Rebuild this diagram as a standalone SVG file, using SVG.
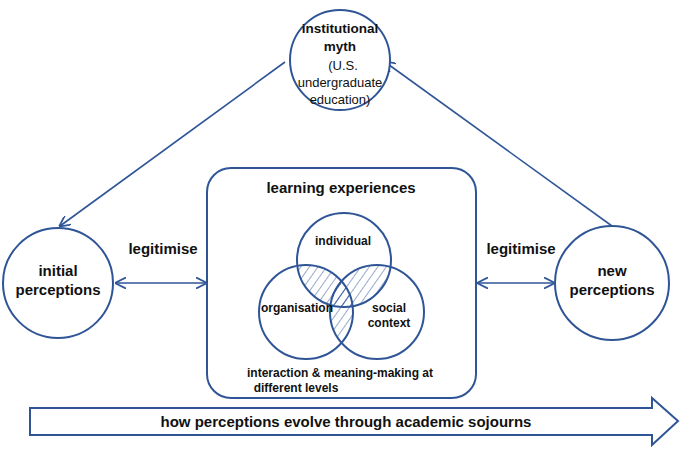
<svg xmlns="http://www.w3.org/2000/svg" width="680" height="451" viewBox="0 0 680 451">
<style>
.n{fill:#fff;stroke:#2f5597;stroke-width:2}
.v{fill:none;stroke:#2f5597;stroke-width:2}
.c{stroke:#2f5597;stroke-width:1.6;fill:none}
text{font-family:"Liberation Sans",Arial,sans-serif;font-weight:bold;fill:#111;text-anchor:middle}
text.r{font-weight:normal}
</style>
<defs>
<marker id="a" viewBox="0 0 10 10" refX="9" refY="5" markerWidth="7" markerHeight="7" orient="auto-start-reverse"><path d="M0,0 L10,5 L0,10" fill="none" stroke="#2f5597" stroke-width="1.6"/></marker>
<pattern id="h" width="7" height="7" patternUnits="userSpaceOnUse" patternTransform="rotate(35)"><line x1="0" y1="0" x2="0" y2="7" stroke="#2f5597" stroke-width="1"/></pattern>
<clipPath id="ci"><circle cx="344" cy="260" r="47"/></clipPath>
<clipPath id="co"><circle cx="306" cy="312" r="47"/></clipPath>
<clipPath id="cs"><circle cx="377" cy="312" r="47"/></clipPath>
</defs>
<g id="connectors">
<line class="c" x1="285" y1="62" x2="60" y2="226" marker-end="url(#a)"/>
<line class="c" x1="612" y1="226" x2="385" y2="62" marker-end="url(#a)"/>
<line class="c" x1="116" y1="283" x2="206" y2="283" marker-start="url(#a)" marker-end="url(#a)"/>
<line class="c" x1="478" y1="283" x2="554" y2="283" marker-start="url(#a)" marker-end="url(#a)"/>
<text x="163" y="254" font-size="15">legitimise</text>
<text x="521" y="254" font-size="15">legitimise</text>
</g>
<g id="myth"><circle class="n" cx="340" cy="60" r="50"/>
<text x="340" y="33" font-size="13.5">institutional</text>
<text x="340" y="51" font-size="13.5">myth</text>
<text class="r" x="343" y="70" font-size="13">(U.S.</text>
<text class="r" x="340" y="87" font-size="13">undergraduate</text>
<text class="r" x="340" y="104" font-size="13">education)</text></g>
<g id="initial"><circle class="n" cx="58" cy="283" r="55"/>
<text x="58" y="276" font-size="15">initial</text><text x="58" y="295" font-size="15">perceptions</text></g>
<g id="new"><circle class="n" cx="612" cy="283" r="57"/>
<text x="612" y="276" font-size="15">new</text><text x="612" y="295" font-size="15">perceptions</text></g>
<g id="learning"><rect class="n" x="207" y="168" width="269" height="230" rx="24"/>
<text x="341" y="193" font-size="15">learning  experiences</text>
<g clip-path="url(#ci)"><rect x="250" y="200" width="200" height="170" fill="url(#h)" clip-path="url(#co)"/></g>
<g clip-path="url(#ci)"><rect x="250" y="200" width="200" height="170" fill="url(#h)" clip-path="url(#cs)"/></g>
<g clip-path="url(#co)"><rect x="250" y="200" width="200" height="170" fill="url(#h)" clip-path="url(#cs)"/></g>
<circle class="v" cx="344" cy="260" r="47"/>
<circle class="v" cx="306" cy="312" r="47"/>
<circle class="v" cx="377" cy="312" r="47"/>
<text x="343" y="245" font-size="12">individual</text>
<text x="297" y="312" font-size="12">organisation</text>
<text x="389" y="312" font-size="12">social</text>
<text x="389" y="327" font-size="12">context</text>
<text x="340" y="377" font-size="12">interaction &amp; meaning-making at</text>
<text x="296" y="392" font-size="12">different levels</text></g>
<g id="timeline"><path class="n" d="M30,408 H652 V398 L678,421 L652,445 V435 H30 Z"/>
<text x="346" y="427" font-size="15">how perceptions evolve through academic sojourns</text></g>
</svg>
